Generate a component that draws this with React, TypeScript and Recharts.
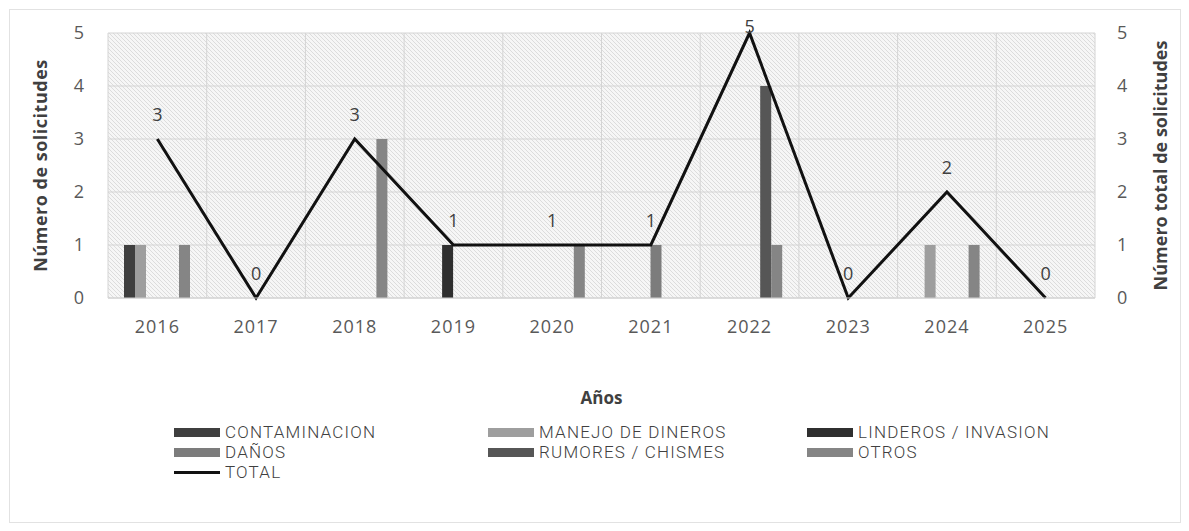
import {
  ComposedChart,
  Bar,
  Line,
  XAxis,
  YAxis,
  CartesianGrid,
  LabelList,
  Legend,
} from "recharts";

// values
const years = ["2016", "2017", "2018", "2019", "2020", "2021", "2022", "2023", "2024", "2025"];
const contaminacion = [1, 0, 0, 0, 0, 0, 0, 0, 0, 0];
const manejoDineros = [1, 0, 0, 0, 0, 0, 0, 0, 1, 0];
const linderos = [0, 0, 0, 1, 0, 0, 0, 0, 0, 0];
const danos = [0, 0, 0, 0, 0, 1, 0, 0, 0, 0];
const rumores = [0, 0, 0, 0, 0, 0, 4, 0, 0, 0];
const otros = [1, 0, 3, 0, 1, 0, 1, 0, 1, 0];
const total = [3, 0, 3, 1, 1, 1, 5, 0, 2, 0];
const yTicks = [0, 1, 2, 3, 4, 5];

const series = [
  { key: "contaminacion", name: "CONTAMINACION", color: "#3f3f3f" },
  { key: "manejo", name: "MANEJO DE DINEROS", color: "#9e9e9e" },
  { key: "linderos", name: "LINDEROS / INVASION", color: "#2f2f2f" },
  { key: "danos", name: "DAÑOS", color: "#7c7c7c" },
  { key: "rumores", name: "RUMORES / CHISMES", color: "#565656" },
  { key: "otros", name: "OTROS", color: "#858585" },
];

const data = years.map((year, i) => ({
  year,
  contaminacion: contaminacion[i],
  manejo: manejoDineros[i],
  linderos: linderos[i],
  danos: danos[i],
  rumores: rumores[i],
  otros: otros[i],
  total: total[i],
}));

const legendCols = [174, 488, 807];
const legendRows = [10, 30, 50];
const tickStyle = { fill: "#595959", fontSize: 18, letterSpacing: 1 };

const renderLegend = () => {
  const items = [
    ...series.map((s) => ({ name: s.name, color: s.color, line: false })),
    { name: "TOTAL", color: "#111", line: true },
  ];
  return (
    <div style={{ position: "relative", width: 1189, height: 70 }}>
      {items.map((it, i) => (
        <div
          key={it.name}
          style={{
            position: "absolute",
            left: legendCols[i % 3],
            top: legendRows[Math.floor(i / 3)] - 10,
            height: 20,
            lineHeight: "20px",
            display: "flex",
            alignItems: "center",
            whiteSpace: "nowrap",
          }}
        >
          <span
            style={{
              width: 46,
              height: it.line ? 3 : 9,
              background: it.color,
              display: "inline-block",
            }}
          />
          <span
            style={{
              marginLeft: 5,
              fontFamily: "Roboto, sans-serif",
              fontSize: 17,
              letterSpacing: 1.2,
              color: "#404040",
              fontWeight: 300,
            }}
          >
            {it.name}
          </span>
        </div>
      ))}
    </div>
  );
};

const leftTitle = (props: any) => {
  const vb = props.viewBox;
  const x = vb.x + 40;
  const y = vb.y + vb.height / 2;
  return (
    <text
      x={x}
      y={y}
      transform={`rotate(-90 ${x} ${y})`}
      textAnchor="middle"
      dominantBaseline="central"
      fill="#404040"
      fontSize={18}
      fontWeight={700}
      letterSpacing={0.5}
    >
      Número de solicitudes
    </text>
  );
};

const rightTitle = (props: any) => {
  const vb = props.viewBox;
  const x = vb.x + 65;
  const y = vb.y + vb.height / 2;
  return (
    <text
      x={x}
      y={y}
      transform={`rotate(-90 ${x} ${y})`}
      textAnchor="middle"
      dominantBaseline="central"
      fill="#404040"
      fontSize={18}
      fontWeight={700}
    >
      Número total de solicitudes
    </text>
  );
};

const xTitle = (props: any) => {
  const vb = props.viewBox;
  return (
    <text x={vb.x + vb.width / 2} y={vb.y + 106} textAnchor="middle" fill="#404040" fontSize={17} fontWeight={700}>
      Años
    </text>
  );
};

// point labels sit above the line, kept inside the picture at the top
const totalLabel = (props: any) => {
  const { x, y, value } = props;
  const ty = Math.max(y - 18, 33);
  return (
    <text x={x} y={ty} textAnchor="middle" fill="#404040" fontSize={18}>
      {value}
    </text>
  );
};

export default function App() {
  return (
    <div
      style={{
        position: "absolute",
        left: 0,
        top: 0,
        width: 1189,
        height: 531,
        background: "#fff",
        fontFamily: "'Open Sans', sans-serif",
      }}
    >
      <svg width={0} height={0} style={{ position: "absolute" }}>
        <defs>
          <pattern id="hatch" width={4} height={4} patternUnits="userSpaceOnUse">
            <rect width={4} height={4} fill="#f6f6f6" />
            <path d="M-1,3 l2,2 M0,0 l4,4 M3,-1 l2,2" stroke="#dcdcdc" strokeWidth={1} />
          </pattern>
        </defs>
      </svg>
      <div
        style={{
          position: "absolute",
          left: 9,
          top: 9,
          width: 1170,
          height: 512,
          border: "1px solid #e2e2e2",
        }}
      />
      <ComposedChart
        width={1189}
        height={531}
        data={data}
        barGap={0}
        margin={{ top: 33, right: 0, bottom: 123, left: 0 }}
      >
        <CartesianGrid
          yAxisId="left"
          fill="url(#hatch)"
          stroke="#d4d4d4"
          verticalCoordinatesGenerator={({ offset }: any) =>
            years.map((_, i) => offset.left + (i * offset.width) / years.length).concat(offset.left + offset.width)
          }
        />
        <XAxis
          dataKey="year"
          height={110}
          tickLine={false}
          axisLine={{ stroke: "#d0d0d0" }}
          tick={tickStyle}
          tickMargin={16}
          label={{ content: xTitle }}
        />
        <YAxis
          yAxisId="left"
          width={108}
          domain={[0, 5]}
          ticks={yTicks}
          tickLine={false}
          axisLine={false}
          tickSize={0}
          tickMargin={23}
          tick={tickStyle}
          label={{ content: leftTitle }}
        />
        <YAxis
          yAxisId="right"
          orientation="right"
          width={94}
          domain={[0, 5]}
          ticks={yTicks}
          tickLine={false}
          axisLine={false}
          tickSize={0}
          tickMargin={22}
          tick={tickStyle}
          label={{ content: rightTitle }}
        />
        {series.map((s) => (
          <Bar
            key={s.key}
            yAxisId="left"
            dataKey={s.key}
            name={s.name}
            fill={s.color}
            barSize={11}
            isAnimationActive={false}
          />
        ))}
        <Line
          yAxisId="right"
          type="linear"
          dataKey="total"
          name="TOTAL"
          stroke="#111"
          strokeWidth={3}
          dot={false}
          isAnimationActive={false}
        >
          <LabelList dataKey="total" content={totalLabel} />
        </Line>
        <Legend
          layout="horizontal"
          verticalAlign="middle"
          align="center"
          wrapperStyle={{ top: 422, left: 0, width: 1189, height: 70 }}
          content={renderLegend}
        />
      </ComposedChart>
    </div>
  );
}
